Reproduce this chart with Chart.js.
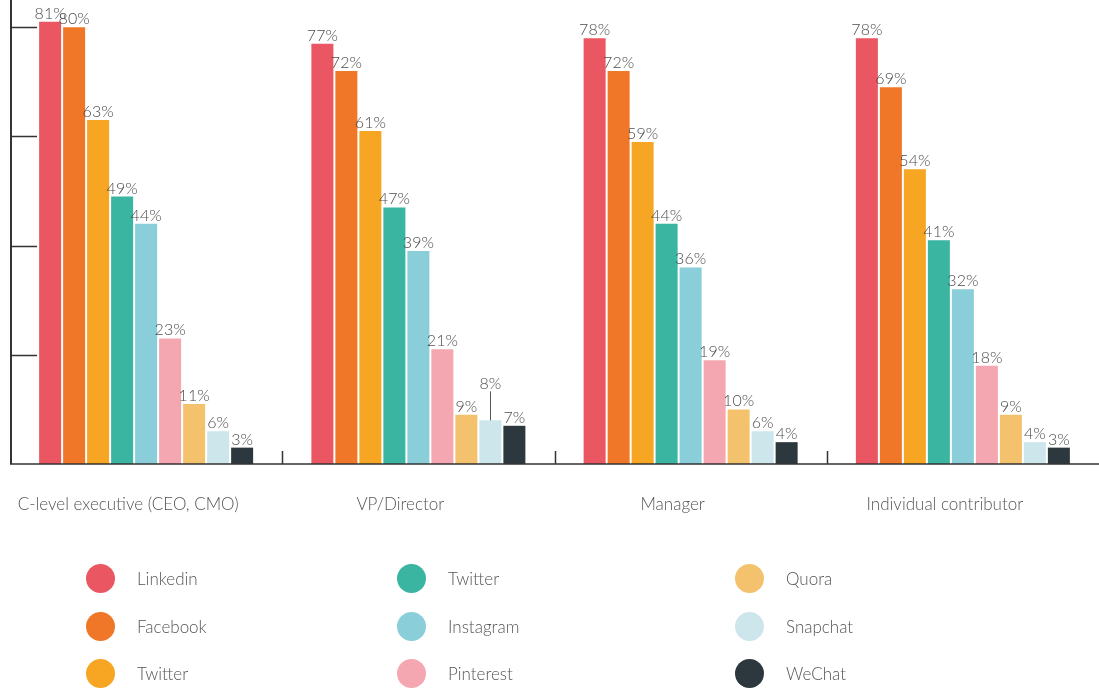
<!DOCTYPE html>
<html>
<head>
<meta charset="utf-8">
<script src="https://cdn.jsdelivr.net/npm/chart.js@4.4.0/dist/chart.umd.min.js"></script>
<style>
  body { margin: 0; background: #fff; font-family: Lato, "Open Sans", sans-serif; }
  #wrap { position: relative; width: 1099px; height: 530px; }
  #legend { position: absolute; left: 0; top: 0; width: 1099px; height: 689px; pointer-events: none; }
  .item { position: absolute; height: 30px; display: flex; align-items: center; color: #555; font-size: 17px; font-weight: 300; }
  .dot { width: 29px; height: 29px; border-radius: 50%; margin-right: 22px; }
</style>
</head>
<body>
<div id="wrap"><canvas id="barChart"></canvas></div>
<div id="legend"></div>
<script>
// categories et séries
var categories = ["C-level executive (CEO, CMO)", "VP/Director", "Manager", "Individual contributor"];
var seriesNames = ["Linkedin", "Facebook", "Twitter", "Twitter", "Instagram", "Pinterest", "Quora", "Snapchat", "WeChat"];
var seriesColors = ["#ea5762", "#ef7727", "#f6a623", "#3ab5a1", "#89ced8", "#f4a7b0", "#f4c26c", "#cde6ec", "#2d383e"];

var linkedin  = [81, 77, 78, 78];
var facebook  = [80, 72, 72, 69];
var twitter1  = [63, 61, 59, 54];
var twitter2  = [49, 47, 44, 41];
var instagram = [44, 39, 36, 32];
var pinterest = [23, 21, 19, 18];
var quora     = [11, 9, 10, 9];
var snapchat  = [6, 8, 6, 4];
var wechat    = [3, 7, 4, 3];

var yTicks = [20, 40, 60, 80];

var seriesValues = [linkedin, facebook, twitter1, twitter2, instagram, pinterest, quora, snapchat, wechat];

var datasets = seriesValues.map(function (vals, i) {
  return {
    label: seriesNames[i],
    data: vals,
    backgroundColor: seriesColors[i],
    borderWidth: 0,
    categoryPercentage: 0.7934,
    barPercentage: 0.917
  };
});

// axes dessinés à la main
var axesPlugin = {
  id: 'axes',
  afterDatasetsDraw: function (chart) {
    var ctx = chart.ctx, a = chart.chartArea, x = chart.scales.x, y = chart.scales.y;
    var base = y.getPixelForValue(0);
    ctx.save();
    ctx.strokeStyle = '#333';
    ctx.lineWidth = 2;
    ctx.beginPath();
    ctx.moveTo(a.left + 1, a.top);
    ctx.lineTo(a.left + 1, base);
    ctx.stroke();
    ctx.lineWidth = 1.5;
    ctx.beginPath();
    ctx.moveTo(a.left, base);
    ctx.lineTo(a.right, base);
    yTicks.forEach(function (v) {
      var py = Math.round(y.getPixelForValue(v)) + 0.5;
      ctx.moveTo(a.left, py);
      ctx.lineTo(a.left + 27, py);
    });
    for (var i = 1; i < categories.length; i++) {
      var px = Math.round((x.getPixelForValue(i - 1) + x.getPixelForValue(i)) / 2) + 0.5;
      ctx.moveTo(px, base);
      ctx.lineTo(px, base - 13);
    }
    ctx.stroke();
    ctx.restore();
  }
};

// étiquettes de valeurs
var raised = { '7-1': 28 };
var labelPlugin = {
  id: 'valueLabels',
  afterDatasetsDraw: function (chart) {
    var ctx = chart.ctx;
    ctx.save();
    ctx.font = '300 16px Lato, "Open Sans", sans-serif';
    ctx.fillStyle = '#4d4d4d';
    ctx.textAlign = 'center';
    ctx.textBaseline = 'alphabetic';
    chart.data.datasets.forEach(function (ds, di) {
      chart.getDatasetMeta(di).data.forEach(function (el, i) {
        var lift = raised[di + '-' + i] || 0;
        var ty = el.y - 3 - lift;
        ctx.fillText(ds.data[i] + '%', el.x, ty);
        if (lift) {
          ctx.strokeStyle = '#555';
          ctx.lineWidth = 1;
          ctx.beginPath();
          ctx.moveTo(Math.round(el.x) + 0.5, ty + 2);
          ctx.lineTo(Math.round(el.x) + 0.5, el.y);
          ctx.stroke();
        }
      });
    });
    ctx.restore();
  }
};

var ctx = document.getElementById('barChart').getContext('2d');
var myBarChart = new Chart(ctx, {
  type: 'bar',
  data: { labels: categories, datasets: datasets },
  options: {
    responsive: true,
    maintainAspectRatio: false,
    animation: false,
    layout: { padding: { left: 10, right: 0, top: 0, bottom: 0 } },
    plugins: { legend: { display: false }, tooltip: { enabled: false } },
    scales: {
      x: {
        grid: { display: false, drawTicks: false },
        border: { display: false },
        ticks: {
          color: '#555',
          font: { family: 'Lato, "Open Sans", sans-serif', size: 17, weight: '300' },
          padding: 30,
          labelOffset: -18,
          maxRotation: 0,
          autoSkip: false
        },
        afterFit: function (scale) { scale.height = 66; }
      },
      y: { display: false, min: 0, max: 85 }
    }
  },
  plugins: [axesPlugin, labelPlugin]
});

// légende HTML
var colLeft = [86, 397, 735];
var rowTop = [563, 611, 658];
var legend = document.getElementById('legend');
seriesNames.forEach(function (name, i) {
  var item = document.createElement('div');
  item.className = 'item';
  item.style.left = colLeft[Math.floor(i / 3)] + 'px';
  item.style.top = rowTop[i % 3] + 'px';
  item.innerHTML = '<span class="dot" style="background:' + seriesColors[i] + '"></span>' + name;
  legend.appendChild(item);
});
</script>
</body>
</html>
